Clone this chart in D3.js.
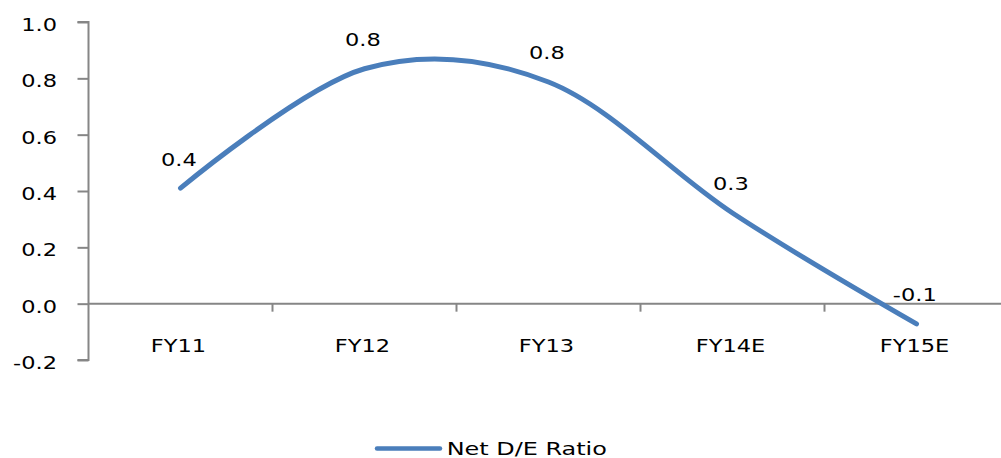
<!DOCTYPE html>
<html>
<head>
<meta charset="utf-8">
<script src="https://cdn.jsdelivr.net/npm/d3@7"></script>
<style>
  html, body { margin: 0; padding: 0; background: #fff; }
  svg { display: block; }
  text { font-family: "DejaVu Sans", Verdana, sans-serif; fill: #000; }
</style>
</head>
<body>
<svg id="chart" width="1001" height="458"></svg>
<script>
const categories = ["FY11", "FY12", "FY13", "FY14E", "FY15E"];
const netDE = [0.41, 0.834, 0.787, 0.322, -0.072];
const dataLabels = ["0.4", "0.8", "0.8", "0.3", "-0.1"];
const yTicks = [-0.2, 0.0, 0.2, 0.4, 0.6, 0.8, 1.0];
const seriesName = "Net D/E Ratio";

const W = 1001, H = 458;
const svg = d3.select("#chart");
const axisColor = "#868686";
const lineColor = "#4A7EBB";
const SX = 1.25;
const fontSize = 18;

const x = d3.scaleBand().domain(categories).range([88.5, 1008.5]).padding(0);
const y = d3.scaleLinear().domain([-0.2, 1.0]).range([360, 22]);

function stretchText(px, py, str, anchor, sx) {
  return svg.append("text")
    .attr("transform", `translate(${px},${py}) scale(${sx || SX},1)`)
    .attr("text-anchor", anchor)
    .style("font-size", fontSize + "px")
    .text(str);
}

const fmt = v => d3.format(".1f")(v).replace("\u2212", "-");

// Y axis
const yAxis = d3.axisLeft(y).tickValues(yTicks).tickSize(11).tickFormat("");
const gy = svg.append("g").attr("transform", "translate(88.5,0)").call(yAxis);
gy.select(".domain").attr("stroke", axisColor).attr("stroke-width", 2).attr("d", `M-11,${y(1.0)}H0V${y(-0.2)}H-11`);
gy.selectAll(".tick line").attr("stroke", axisColor).attr("stroke-width", 2);
yTicks.forEach(v => stretchText(57, y(v) + 9, fmt(v), "end"));

// X axis at zero
const xAxis = d3.axisBottom(x).tickSize(0).tickFormat("");
const gx = svg.append("g").attr("transform", `translate(0,${y(0)})`).call(xAxis);
gx.select(".domain").attr("stroke", axisColor).attr("stroke-width", 2).attr("d", `M88.5,0H1008.5`);
const boundaries = categories.map(c => x(c)).concat([x(categories[categories.length - 1]) + x.bandwidth()]);
gx.selectAll(".bt").data(boundaries.slice(1)).enter().append("line")
  .attr("x1", d => d).attr("x2", d => d).attr("y1", 0).attr("y2", 8)
  .attr("stroke", axisColor).attr("stroke-width", 2);
categories.forEach(c => stretchText(x(c) + x.bandwidth() / 2 - 2, 352, c, "middle"));

// Line
const pts = categories.map((c, i) => [x(c) + x.bandwidth() / 2, y(netDE[i])]);
const line = d3.line().curve(d3.curveCardinal.tension(0));
svg.append("path")
  .attr("d", line(pts))
  .attr("fill", "none")
  .attr("stroke", lineColor)
  .attr("stroke-width", 5)
  .attr("stroke-linecap", "round")
  .attr("stroke-linejoin", "round");

// Data labels
pts.forEach((p, i) => stretchText(p[0] - 1.7, p[1] - 22.5, dataLabels[i], "middle"));

// Legend
svg.append("line")
  .attr("x1", 377).attr("x2", 440).attr("y1", 448.5).attr("y2", 448.5)
  .attr("stroke", lineColor).attr("stroke-width", 4.5).attr("stroke-linecap", "round");
stretchText(446.7, 455, seriesName, "start", 1.33);
</script>
</body>
</html>
